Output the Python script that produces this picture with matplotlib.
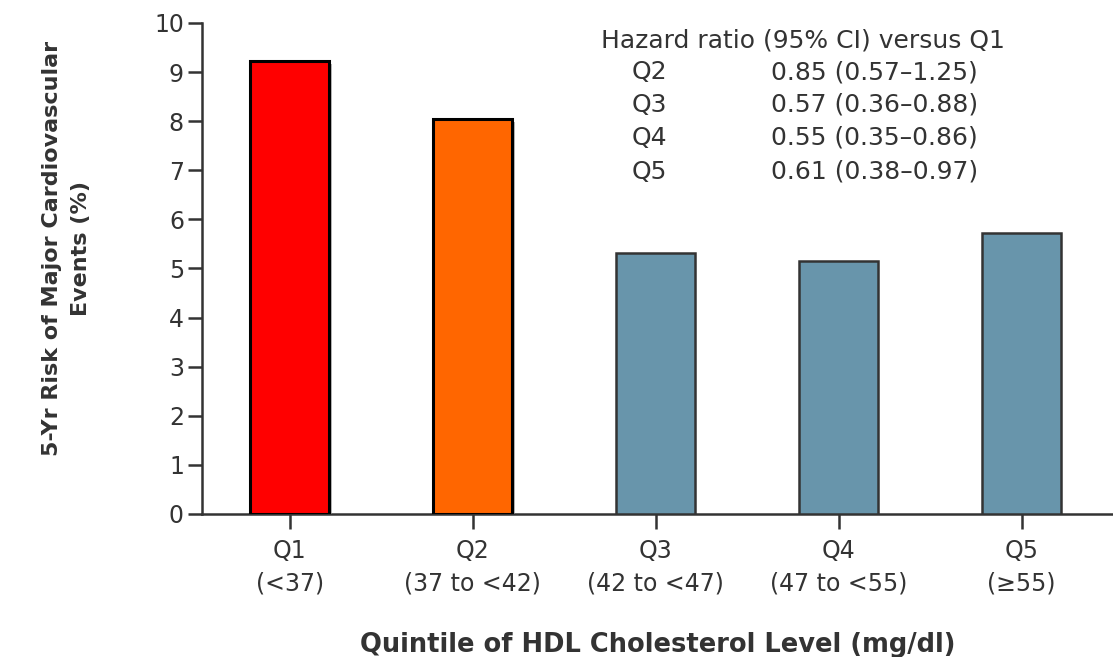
import matplotlib
matplotlib.use("Agg")
import matplotlib.pyplot as plt
import matplotlib.patheffects as pe
import numpy as np

# dane
QUINTILES = ["Q1", "Q2", "Q3", "Q4", "Q5"]
RANGES = ["(<37)", "(37 to <42)", "(42 to <47)", "(47 to <55)", "(≥55)"]
RISK = [9.23, 8.04, 5.32, 5.15, 5.72]
COLORS = ["#ff0000", "#ff6600", "#6895ab", "#6895ab", "#6895ab"]

HR_LABELS = ["Q2", "Q3", "Q4", "Q5"]
HR_VALUES = ["0.85 (0.57\u20131.25)", "0.57 (0.36\u20130.88)",
             "0.55 (0.35\u20130.86)", "0.61 (0.38\u20130.97)"]

plt.rcParams["font.family"] = ["DejaVu Sans"]
TXT = "#333333"

fig = plt.figure(figsize=(11.13, 6.57), dpi=100)
ax = fig.add_axes([0.1815, 0.2177, 0.8185, 0.7473])

x = np.arange(len(QUINTILES))
for i in x:
    hi = i < 2
    b = ax.bar(i, RISK[i], width=0.43, color=COLORS[i],
               edgecolor="black" if hi else "#333333",
               linewidth=2.2 if hi else 1.8, zorder=3)
    if hi:
        b[0].set_path_effects([pe.SimplePatchShadow(offset=(2, -2), shadow_rgbFace="#888888", alpha=0.6),
                               pe.Normal()])

ax.set_xlim(-0.48, 4.5)
ax.set_ylim(0, 10)
ax.set_yticks(range(0, 11))
ax.set_xticks(x)
ax.set_xticklabels([f"{q}\n{r}" for q, r in zip(QUINTILES, RANGES)],
                   fontsize=17, color=TXT, linespacing=1.45)
ax.tick_params(axis="y", labelsize=17, labelcolor=TXT, length=10, width=1.8, color=TXT, pad=3)
ax.tick_params(axis="x", length=11, width=1.8, color=TXT, pad=7)

for s in ["top", "right"]:
    ax.spines[s].set_visible(False)
for s in ["left", "bottom"]:
    ax.spines[s].set_color(TXT)
    ax.spines[s].set_linewidth(1.8)

ax.set_ylabel("5-Yr Risk of Major Cardiovascular\nEvents (%)", fontsize=16,
              fontweight="bold", color=TXT, linespacing=1.55)
ax.yaxis.set_label_coords(-0.122, 0.54)
ax.set_xlabel("Quintile of HDL Cholesterol Level (mg/dl)", fontsize=18.5,
              fontweight="bold", color=TXT, labelpad=26)

# tabela hazard ratio
FS = 18
ax.text(1.70, 9.65, "Hazard ratio (95% CI) versus Q1", fontsize=FS,
        color=TXT, va="center", ha="left")
row_y = [9.0, 8.33, 7.66, 6.97]
for lab, val, yy in zip(HR_LABELS, HR_VALUES, row_y):
    ax.text(1.87, yy, lab, fontsize=FS, color=TXT, va="center", ha="left")
    ax.text(2.63, yy, val, fontsize=FS, color=TXT, va="center", ha="left")

fig.savefig("out.png", dpi=100)
